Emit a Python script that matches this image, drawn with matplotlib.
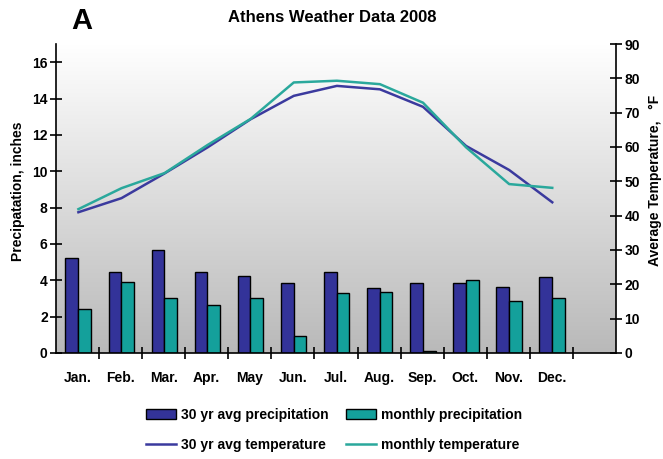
import numpy as np
import matplotlib
matplotlib.use("Agg")
import matplotlib.pyplot as plt
from matplotlib.patches import Patch
from matplotlib.lines import Line2D
from matplotlib.colors import LinearSegmentedColormap

plt.rcParams['font.family'] = ['Liberation Sans', 'DejaVu Sans']
plt.rcParams['font.weight'] = 'bold'

months = ['Jan.', 'Feb.', 'Mar.', 'Apr.', 'May', 'Jun.', 'Jul.', 'Aug.', 'Sep.', 'Oct.', 'Nov.', 'Dec.']
avg_precip = [5.25, 4.45, 5.65, 4.45, 4.25, 3.85, 4.45, 3.6, 3.85, 3.85, 3.65, 4.2]
monthly_precip = [2.4, 3.9, 3.0, 2.65, 3.05, 0.95, 3.3, 3.35, 0.1, 4.0, 2.85, 3.05]
avg_temp = [41.0, 45.1, 52.3, 59.9, 68.1, 74.9, 77.8, 76.8, 71.7, 60.3, 53.3, 43.9]
monthly_temp = [41.9, 48.0, 52.4, 60.6, 68.2, 78.8, 79.3, 78.3, 72.9, 59.9, 49.2, 48.1]

c_blue = '#333399'
c_teal = '#14a09b'
c_blue_line = '#3b3a9e'
c_teal_line = '#2aa89c'

fig = plt.figure(figsize=(6.63, 4.59), dpi=100)
ax = fig.add_axes([56/663, 1-353/459, 560/663, 309/459])
ax2 = ax.twinx()

# gradient background
grad = np.linspace(0, 1, 256).reshape(-1, 1)
cmap = LinearSegmentedColormap.from_list('bg', ['#b9b9b9', '#ffffff'])
ax.imshow(grad, extent=[0, 13, 0, 17], origin='lower', aspect='auto', cmap=cmap, zorder=0)

x = np.arange(len(months))
w = 0.295
ax.bar(x + 0.22, avg_precip, width=w, align='edge', color=c_blue, edgecolor='black', linewidth=1.0, zorder=2)
ax.bar(x + 0.22 + w, monthly_precip, width=w, align='edge', color=c_teal, edgecolor='black', linewidth=1.0, zorder=2)

ax2.plot(x + 0.52, avg_temp, color=c_blue_line, linewidth=1.8, zorder=3)
ax2.plot(x + 0.52, monthly_temp, color=c_teal_line, linewidth=1.8, zorder=3)

ax.set_xlim(0, 13)
ax.set_ylim(0, 17)
ax2.set_ylim(0, 90)

ax.set_yticks(range(0, 17, 2))
ax2.set_yticks(range(0, 91, 10))
ax.set_xticks(x + 0.5)
ax.set_xticklabels(months)
ax.set_xticks(np.arange(1, 13), minor=True)

for a in (ax, ax2):
    a.spines['top'].set_visible(False)
ax.spines['right'].set_visible(False)
ax2.spines['left'].set_visible(False)
ax2.spines['bottom'].set_visible(False)
for sp in ['left', 'bottom']:
    ax.spines[sp].set_linewidth(1.2)
ax2.spines['right'].set_linewidth(1.2)

ax.tick_params(axis='y', direction='inout', length=8, width=1.2, labelsize=10, pad=2)
ax2.tick_params(axis='y', direction='inout', length=8, width=1.2, labelsize=10, pad=2)
ax.tick_params(axis='x', which='major', length=0, labelsize=10, pad=13)
ax.tick_params(axis='x', which='minor', direction='inout', length=8, width=1.2)

ax.set_ylabel('Precipatation, inches', fontsize=10, fontweight='bold', labelpad=5)
ax2.set_ylabel('Average Temperature,   °F', fontsize=10, fontweight='bold', labelpad=6)
ax.yaxis.label.set_y(0.525)
ax2.yaxis.label.set_y(0.56)

fig.text(332/663, 1-18/459, 'Athens Weather Data 2008', ha='center', va='center', fontsize=12, fontweight='bold')
fig.text(82/663, 1-21/459, 'A', ha='center', va='center', fontsize=21, fontweight='bold')

handles = [Patch(facecolor=c_blue, edgecolor='black', linewidth=1.0),
           Line2D([], [], color=c_blue_line, linewidth=1.8),
           Patch(facecolor=c_teal, edgecolor='black', linewidth=1.0),
           Line2D([], [], color=c_teal_line, linewidth=1.8)]
labels = ['30 yr avg precipitation', '30 yr avg temperature', 'monthly precipitation', 'monthly temperature']
fig.legend(handles, labels, loc='center', bbox_to_anchor=(334/663, 1-430/459), ncol=2, frameon=False,
           prop={'size': 10, 'weight': 'bold'}, handlelength=2.2, handletextpad=0.35, columnspacing=1.2,
           labelspacing=1.2)

fig.savefig('out.png', dpi=100)
